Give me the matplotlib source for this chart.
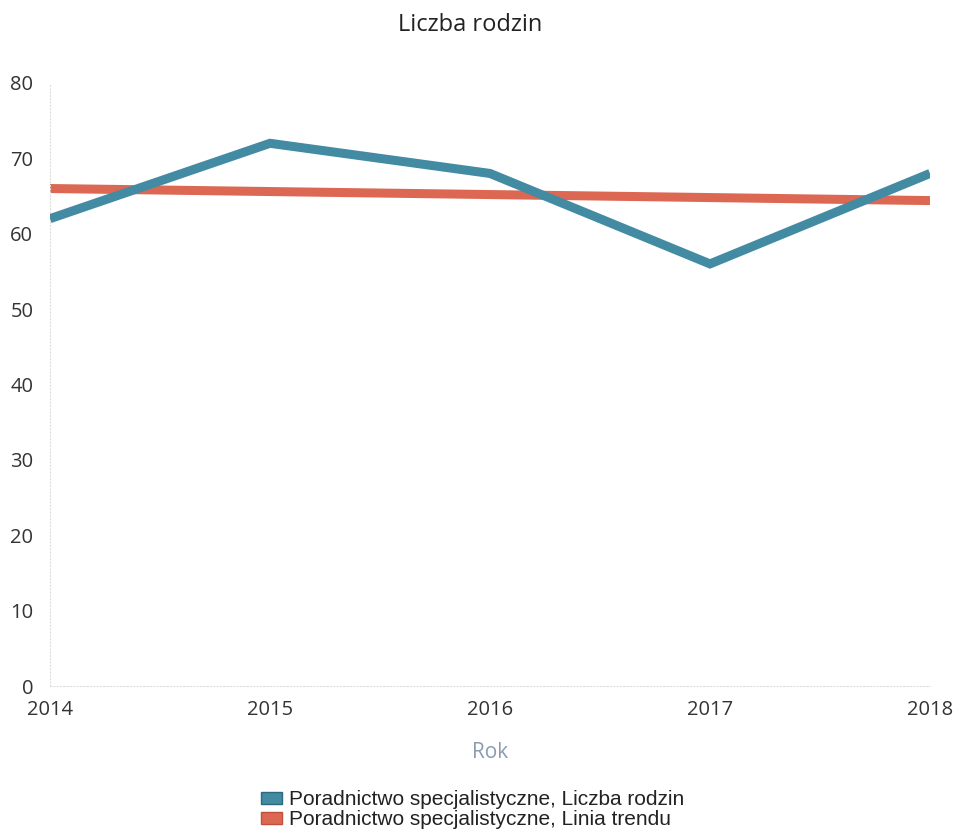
import matplotlib
matplotlib.use("Agg")
import matplotlib.pyplot as plt
from matplotlib.patches import Patch

years = [2014, 2015, 2016, 2017, 2018]
liczba_rodzin = [62, 72, 68, 56, 68]
linia_trendu = [66.0, 65.6, 65.2, 64.8, 64.4]
y_ticks = [0, 10, 20, 30, 40, 50, 60, 70, 80]
series_names = ["Poradnictwo specjalistyczne, Liczba rodzin",
                "Poradnictwo specjalistyczne, Linia trendu"]

blue = "#438aa3"
red = "#dc6853"
text_col = "#333333"

fig = plt.figure(figsize=(9.55, 8.34), dpi=100)
ax = fig.add_axes([50/955, 1-686/834, 880/955, (686-83)/834])

ax.plot(years, liczba_rodzin, color=blue, lw=6.5, solid_capstyle="butt",
        solid_joinstyle="miter", zorder=3)
ax.plot(years, linia_trendu, color=red, lw=6.5, solid_capstyle="butt", zorder=2)

ax.set_xlim(2014, 2018)
ax.set_ylim(0, 80)
ax.set_xticks(years)
ax.set_xticklabels([str(y) for y in years])
ax.set_yticks(y_ticks)

for sp in ["top", "right"]:
    ax.spines[sp].set_visible(False)
for sp in ["left", "bottom"]:
    ax.spines[sp].set_color("#dddddd")
    ax.spines[sp].set_linestyle((0, (1, 2)))
    ax.spines[sp].set_linewidth(0.8)

ax.tick_params(axis="both", length=0, labelsize=14.5, labelcolor=text_col)
ax.tick_params(axis="y", pad=12)
ax.tick_params(axis="x", pad=10)
for lab in ax.get_xticklabels() + ax.get_yticklabels():
    lab.set_fontfamily("Open Sans")

ax.set_xlabel("Rok", fontsize=15, color="#8b9bb0", family="Open Sans", labelpad=16)
fig.text(470/955, 1-25/834, "Liczba rodzin", ha="center", va="center",
         fontsize=17, color="#222222", family="Open Sans")

handles = [Patch(facecolor=blue, edgecolor="#2d6a80"),
           Patch(facecolor=red, edgecolor="#c0503c")]
fig.legend(handles, series_names, loc="upper left",
           bbox_to_anchor=(251/955, 1-780/834), frameon=False,
           prop={"family": "Liberation Sans", "size": 15},
           handlelength=1.0, handleheight=0.45, handletextpad=0.3,
           labelspacing=0.05, borderpad=0, labelcolor="#222222")

fig.savefig("out.png", dpi=100, facecolor="white")
